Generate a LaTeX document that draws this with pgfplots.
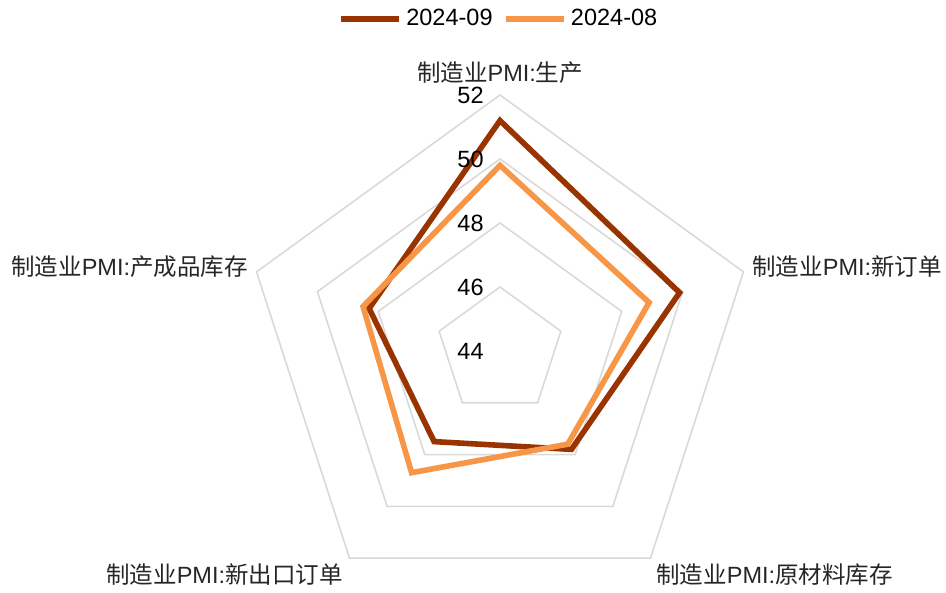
\documentclass[border=0pt]{standalone}
\usepackage{pgfplots}
\pgfplotsset{compat=1.18}
\usepgfplotslibrary{polar}
\usepackage{pgfplotstable}
\usepackage{fontspec}
\setmainfont{Liberation Sans}
\newfontfamily\cjk{Noto Sans CJK SC}
\definecolor{sepc}{RGB}{153,51,0}
\definecolor{augc}{RGB}{247,150,70}
\definecolor{ringc}{RGB}{217,217,217}
\definecolor{labc}{RGB}{38,38,38}
% angle, 2024-09, 2024-08
\pgfplotstableread{
a s9 s8
90 51.2 49.8
18 49.9 48.9
-54 47.8 47.6
-126 47.5 48.7
162 48.3 48.5
}\pmidata
\newcommand{\lab}[1]{{\cjk 制造业}PMI:{\cjk #1}}
\begin{document}
\begin{tikzpicture}[font=\fontsize{11.75}{14}\selectfont]
\begin{polaraxis}[
  at={(0,0)}, anchor=origin,
  scale only axis, width=256pt, height=256pt,
  xmin=0, xmax=360, ymin=0, ymax=8,
  hide axis, clip=false,
  legend columns=2,
  legend style={draw=none, fill=none, at={(axis description cs:0.5,1.148)}, anchor=center,
    /tikz/every even column/.append style={column sep=3pt},
    nodes={inner sep=2.2pt, text=black}},
  legend image code/.code={\draw[#1] (0pt,0pt) -- (29pt,0pt);},
]
\foreach \r in {2,4,6,8}{
  \addplot[ringc, line width=0.8pt, forget plot] coordinates {(90,\r)(18,\r)(-54,\r)(-126,\r)(162,\r)} -- cycle;
}
\addplot[sepc, line width=2.8pt, line join=miter, no markers] table[x=a, y expr=\thisrow{s9}-44] {\pmidata} -- cycle;
\addlegendentry{2024-09}
\addplot[augc, line width=2.8pt, line join=miter, no markers] table[x=a, y expr=\thisrow{s8}-44] {\pmidata} -- cycle;
\addlegendentry{2024-08}
\node[anchor=east, inner sep=0pt, xshift=-8pt] at (axis cs:90,0) {44};
\node[anchor=east, inner sep=0pt, xshift=-8pt] at (axis cs:90,2) {46};
\node[anchor=east, inner sep=0pt, xshift=-8pt] at (axis cs:90,4) {48};
\node[anchor=east, inner sep=0pt, xshift=-8pt] at (axis cs:90,6) {50};
\node[anchor=east, inner sep=0pt, xshift=-8pt] at (axis cs:90,8) {52};
\node[anchor=base, inner sep=0pt, text=labc, yshift=6.5pt] at (axis cs:90,8) {\lab{生产}};
\node[anchor=base west, inner sep=0pt, text=labc, xshift=4.25pt, yshift=-2pt] at (axis cs:18,8) {\lab{新订单}};
\node[anchor=base west, inner sep=0pt, text=labc, xshift=2.75pt, yshift=-12.5pt] at (axis cs:-54,8) {\lab{原材料库存}};
\node[anchor=base east, inner sep=0pt, text=labc, xshift=-3.25pt, yshift=-12.5pt] at (axis cs:-126,8) {\lab{新出口订单}};
\node[anchor=base east, inner sep=0pt, text=labc, xshift=-4.25pt, yshift=-2pt] at (axis cs:162,8) {\lab{产成品库存}};
\end{polaraxis}
\pgfresetboundingbox
\path[use as bounding box] (-250pt,-121pt) rectangle (223pt,175.5pt);
\end{tikzpicture}
\end{document}
